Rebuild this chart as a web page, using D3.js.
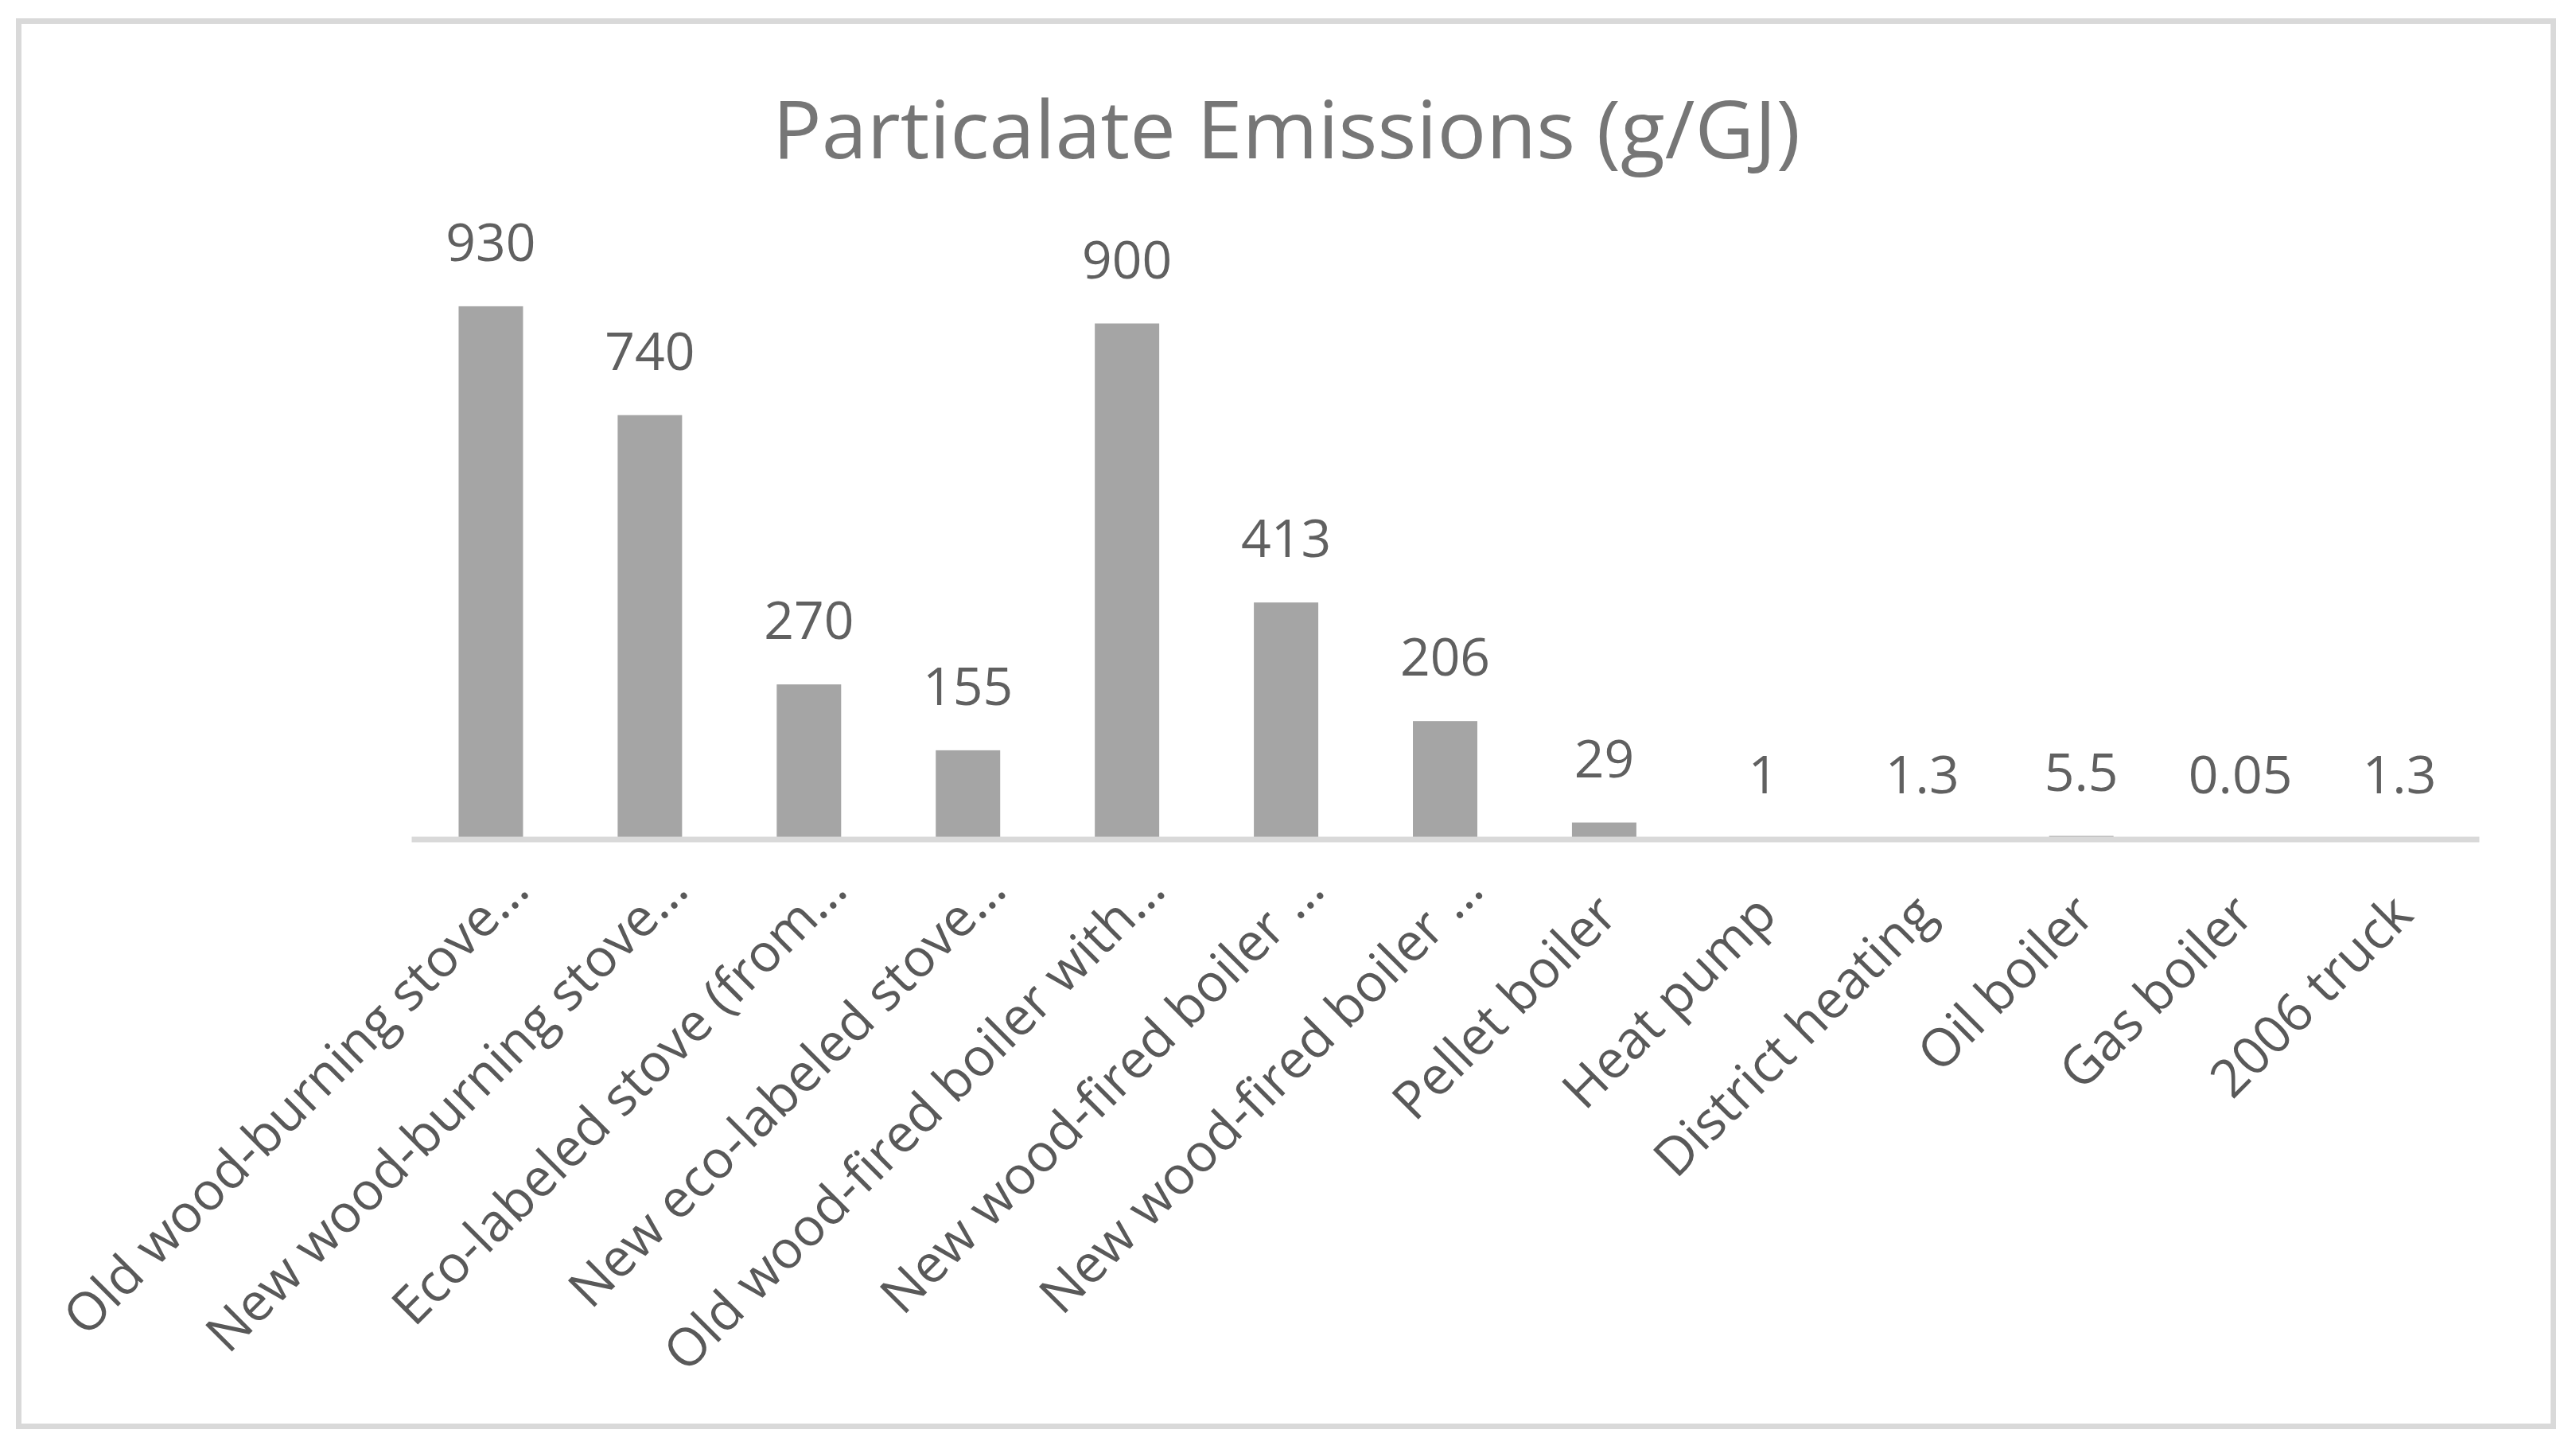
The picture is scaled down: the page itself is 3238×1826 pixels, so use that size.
<!DOCTYPE html>
<html>
<head>
<meta charset="utf-8">
<script src="https://cdn.jsdelivr.net/npm/d3@7"></script>
<style>
  html, body { margin: 0; padding: 0; background: #fff; }
  svg { display: block; }
</style>
</head>
<body>
<script>
const categories = [
  "Old wood-burning stove…",
  "New wood-burning stove…",
  "Eco-labeled stove (from…",
  "New eco-labeled stove…",
  "Old wood-fired boiler with…",
  "New wood-fired boiler …",
  "New wood-fired boiler …",
  "Pellet boiler",
  "Heat pump",
  "District heating",
  "Oil boiler",
  "Gas boiler",
  "2006 truck"
];
const values = [930, 740, 270, 155, 900, 413, 206, 29, 1, 1.3, 5.5, 0.05, 1.3];
const valueLabels = ["930", "740", "270", "155", "900", "413", "206", "29", "1", "1.3", "5.5", "0.05", "1.3"];
const title = "Particalate Emissions (g/GJ)";
const yDomain = [0, 1000];

const W = 3238, H = 1826;
const FONT = "'Open Sans', 'Noto Sans', sans-serif";

const svg = d3.select("body").append("svg")
  .attr("width", W).attr("height", H);

svg.append("rect").attr("x", 0).attr("y", 0).attr("width", W).attr("height", H).attr("fill", "#fff");

// chart frame
svg.append("rect")
  .attr("x", 23.5).attr("y", 26.5)
  .attr("width", 3186).attr("height", 1766)
  .attr("fill", "#fff")
  .attr("stroke", "#d9d9d9").attr("stroke-width", 7);

const x = d3.scaleBand()
  .domain(d3.range(categories.length))
  .range([517, 3116])
  .paddingInner(0.595)
  .paddingOuter(0.2975);

const y = d3.scaleLinear().domain(yDomain).range([1054.5, 334.5]);

// title
svg.append("text")
  .attr("x", 1617).attr("y", 199)
  .attr("text-anchor", "middle")
  .attr("font-family", FONT)
  .attr("font-size", 101)
  .attr("fill", "#767676")
  .attr("textLength", 1292)
  .attr("lengthAdjust", "spacingAndGlyphs")
  .text(title);

// bars
svg.append("g").selectAll("rect")
  .data(values)
  .join("rect")
  .attr("x", (d, i) => x(i))
  .attr("width", x.bandwidth())
  .attr("y", d => y(d))
  .attr("height", d => y(0) - y(d))
  .attr("fill", "#a5a5a5");

// value labels
svg.append("g").selectAll("text")
  .data(values)
  .join("text")
  .attr("x", (d, i) => x(i) + x.bandwidth() / 2)
  .attr("y", d => y(d) - 57)
  .attr("text-anchor", "middle")
  .attr("font-family", FONT)
  .attr("font-size", 66)
  .attr("fill", "#606060")
  .text((d, i) => valueLabels[i]);

// x axis
const axis = d3.axisBottom(x)
  .tickSize(0)
  .tickSizeOuter(0)
  .tickFormat(i => categories[i]);

const gx = svg.append("g")
  .attr("transform", `translate(0,${y(0)})`)
  .call(axis);

gx.select(".domain")
  .attr("stroke", "#d9d9d9")
  .attr("stroke-width", 7);

gx.selectAll(".tick text")
  .attr("font-family", FONT)
  .attr("font-size", 66)
  .attr("fill", "#595959")
  .attr("text-anchor", "end")
  .attr("y", 0)
  .attr("dy", 0)
  .attr("x", 0)
  .attr("dx", (i) => categories[i].endsWith("…") ? 44 : 0)
  .attr("transform", `translate(20,${1153 - y(0)}) rotate(-45)`);
</script>
</body>
</html>
